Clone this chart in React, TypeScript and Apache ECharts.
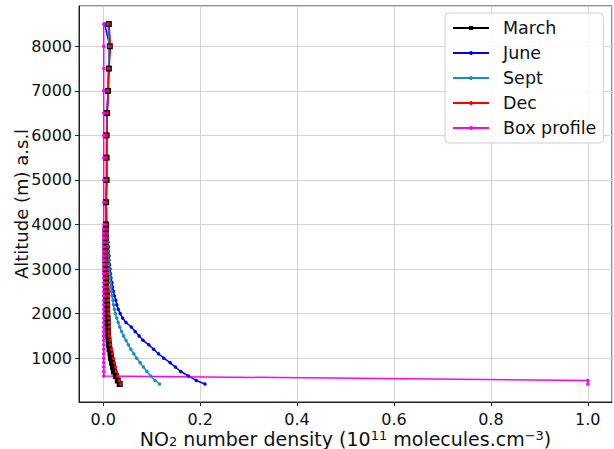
import React, { useEffect, useRef } from "react";
import * as echarts from "echarts";

const ALTITUDES = [
  8500, 8000, 7500, 7000, 6500, 6000, 5500, 5000, 4500,
  4000, 3900, 3800, 3700, 3600, 3500, 3400, 3300, 3200, 3100,
  3000, 2900, 2800, 2700, 2600, 2500, 2400, 2300, 2200, 2100,
  2000, 1900, 1800, 1700, 1600, 1500, 1400, 1300, 1200, 1100,
  1000, 900, 800, 700, 600, 500, 420,
];

const MARCH = [
  0.0116, 0.0136, 0.0116, 0.010, 0.008, 0.007, 0.007, 0.007, 0.006,
  0.006, 0.005, 0.005, 0.005, 0.005, 0.005, 0.005, 0.005, 0.005, 0.005,
  0.005, 0.005, 0.006, 0.006, 0.006, 0.007, 0.007, 0.007, 0.008, 0.008,
  0.008, 0.009, 0.009, 0.009, 0.010, 0.010, 0.011, 0.012, 0.013, 0.015,
  0.016, 0.018, 0.020, 0.022, 0.026, 0.030, 0.034,
];

const JUNE = [
  0.003, 0.0136, 0.011, 0.010, 0.008, 0.007, 0.007, 0.007, 0.006,
  0.007, 0.008, 0.008, 0.009, 0.010, 0.011, 0.011, 0.012, 0.012, 0.013,
  0.014, 0.015, 0.016, 0.018, 0.019, 0.021, 0.023, 0.026, 0.028, 0.031,
  0.035, 0.040, 0.047, 0.058, 0.066, 0.074, 0.082, 0.094, 0.104, 0.114,
  0.125, 0.138, 0.149, 0.160, 0.176, 0.192, 0.210,
];

const SEPT = [
  0.010, 0.012, 0.011, 0.0095, 0.008, 0.007, 0.007, 0.007, 0.006,
  0.007, 0.007, 0.008, 0.008, 0.009, 0.009, 0.010, 0.010, 0.011, 0.011,
  0.012, 0.013, 0.014, 0.015, 0.016, 0.017, 0.018, 0.020, 0.021, 0.023,
  0.025, 0.028, 0.031, 0.034, 0.038, 0.042, 0.047, 0.052, 0.057, 0.063,
  0.069, 0.076, 0.083, 0.090, 0.098, 0.107, 0.116,
];

const DEC = [
  0.012, 0.015, 0.012, 0.0105, 0.0085, 0.0075, 0.007, 0.007, 0.0065,
  0.007, 0.007, 0.007, 0.007, 0.007, 0.007, 0.007, 0.007, 0.007, 0.007,
  0.0075, 0.008, 0.008, 0.008, 0.009, 0.009, 0.009, 0.010, 0.010, 0.011,
  0.011, 0.011, 0.012, 0.012, 0.012, 0.013, 0.014, 0.015, 0.017, 0.019,
  0.021, 0.023, 0.025, 0.027, 0.030, 0.033, 0.036,
];

const BOX = [
  0.001, 0.001, 0.001, 0.001, 0.001, 0.001, 0.001, 0.001, 0.001,
  0.001, 0.001, 0.001, 0.001, 0.001, 0.001, 0.001, 0.001, 0.001, 0.001,
  0.001, 0.001, 0.001, 0.001, 0.001, 0.001, 0.001, 0.001, 0.001, 0.001,
  0.001, 0.001, 0.001, 0.001, 0.001, 0.001, 0.001, 0.001, 0.001, 0.001,
  0.001, 0.001, 0.001, 0.001, 0.001, 1.0, 1.0,
];

const SERIES_NAMES = ["March", "June", "Sept", "Dec", "Box profile"];
const SERIES_VALUES = [MARCH, JUNE, SEPT, DEC, BOX];
const SERIES_COLORS = ["#000000", "#0000ff", "#1a8cc8", "#ff0000", "#ff00ff"];
const SERIES_SYMBOLS = ["rect", "circle", "circle", "circle", "circle"];
const SERIES_SYMBOL_SIZES = [6, 3.5, 3.5, 3.5, 3.5];

const X_MIN = -0.05;
const X_MAX = 1.05;

const FONT = "DejaVu Sans";

export default function App() {
  const ref = useRef<HTMLDivElement>(null);

  useEffect(() => {
    document.body.style.margin = "0";
    const chart = echarts.init(ref.current!, null, { renderer: "svg" });
    const yLo = Math.min(...ALTITUDES);
    const yHi = Math.max(...ALTITUDES);
    const pad = (yHi - yLo) * 0.05;

    const series = SERIES_NAMES.map((name, k) => ({
      name,
      type: "line",
      data: SERIES_VALUES[k].map((v, i) => [v, ALTITUDES[i]]),
      symbol: SERIES_SYMBOLS[k],
      symbolSize: SERIES_SYMBOL_SIZES[k],
      showSymbol: true,
      lineStyle: { color: SERIES_COLORS[k], width: 1.5 },
      itemStyle: { color: SERIES_COLORS[k] },
      emphasis: { disabled: true },
    }));

    chart.setOption({
      animation: false,
      grid: {
        left: 79,
        right: 2,
        top: 6,
        bottom: 47,
        show: true,
        containLabel: false,
        outerBoundsMode: "none",
        borderColor: "#222",
        borderWidth: 1,
        backgroundColor: "transparent",
      },
      legend: {
        orient: "vertical",
        left: 445,
        top: 13,
        padding: [6, 7, 6, 7],
        itemWidth: 36,
        itemHeight: 5,
        itemGap: 7,
        backgroundColor: "rgba(255,255,255,0.85)",
        borderColor: "#cfcfcf",
        borderWidth: 1,
        borderRadius: 4,
        textStyle: {
          fontSize: 17.5,
          fontFamily: FONT,
          color: "#111",
          lineHeight: 18,
          padding: [0, 0, 0, 9],
        },
        data: SERIES_NAMES,
      },
      xAxis: {
        type: "value",
        min: X_MIN,
        max: X_MAX,
        splitNumber: 5,
        axisLine: { show: true, onZero: false, lineStyle: { color: "#222", width: 1 } },
        axisTick: { show: true, length: 4, lineStyle: { color: "#222" } },
        axisLabel: {
          margin: 9,
          fontSize: 16,
          lineHeight: 16,
          fontFamily: FONT,
          color: "#111",
          showMinLabel: false,
          showMaxLabel: false,
          formatter: (v: number) => v.toFixed(1),
        },
        splitLine: { show: true, lineStyle: { color: "#d4d4d4", width: 1 } },
        name: "{t|NO}{sub|2}{t| number density (10}{sup|11}{t| molecules.cm}{sup|\u22123}{t|)}",
        nameLocation: "middle",
        nameGap: 27,
        nameMoveOverlap: false,
        nameTextStyle: {
          fontFamily: FONT,
          color: "#111",
          rich: {
            t: { fontSize: 19, lineHeight: 19, fontFamily: FONT, color: "#111" },
            sub: { fontSize: 13, fontFamily: FONT, color: "#111", padding: [6, 0, 0, 0] },
            sup: { fontSize: 13, fontFamily: FONT, color: "#111", padding: [0, 0, 6, 0] },
          },
        },
      },
      yAxis: {
        type: "value",
        min: yLo - pad,
        max: yHi + pad,
        splitNumber: 9,
        axisLine: { show: true, onZero: false, lineStyle: { color: "#222", width: 1 } },
        axisTick: { show: true, length: 4, lineStyle: { color: "#222" } },
        axisLabel: {
          margin: 7,
          fontSize: 16,
          fontFamily: FONT,
          color: "#111",
          showMinLabel: false,
          showMaxLabel: false,
          formatter: (v: number) => String(Math.round(v)),
        },
        splitLine: { show: true, lineStyle: { color: "#d4d4d4", width: 1 } },
        name: "Altitude (m) a.s.l",
        nameLocation: "middle",
        nameGap: 49,
        nameMoveOverlap: false,
        nameTextStyle: { fontSize: 18, fontFamily: FONT, color: "#111" },
      },
      series,
    });

    return () => chart.dispose();
  }, []);

  return <div ref={ref} style={{ width: 614, height: 449 }} />;
}
